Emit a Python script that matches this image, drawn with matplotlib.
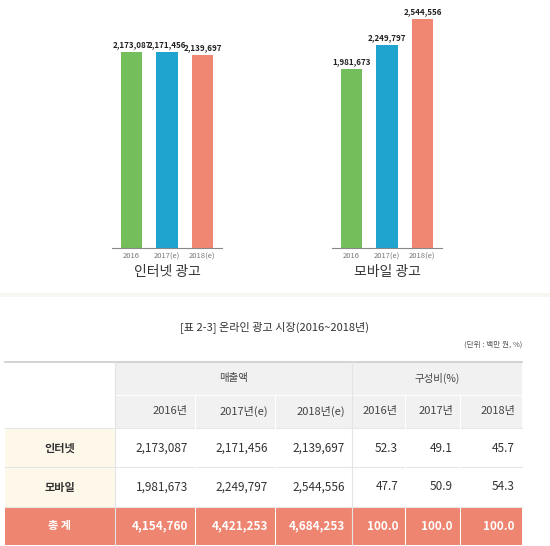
import matplotlib
matplotlib.use("Agg")
import matplotlib.pyplot as plt
from matplotlib.patches import Rectangle

plt.rcParams["font.family"] = ["Noto Sans CJK KR", "DejaVu Sans"]

years = ["2016", "2017(e)", "2018(e)"]
internet = [2173087, 2171456, 2139697]
mobile = [1981673, 2249797, 2544556]
total = [4154760, 4421253, 4684253]
share_internet = [52.3, 49.1, 45.7]
share_mobile = [47.7, 50.9, 54.3]
share_total = [100.0, 100.0, 100.0]
bar_colors = ["#74bf5c", "#1fa3cf", "#ef8772"]

W, H = 550, 546
fig = plt.figure(figsize=(W / 100, H / 100), dpi=100)


def px_axes(x0, y0, x1, y1):
    return fig.add_axes([x0 / W, 1 - y1 / H, (x1 - x0) / W, (y1 - y0) / H])


def bar_panel(x0, x1, values, title):
    ax = px_axes(x0, 0, x1, 248)
    xs = range(len(values))
    ax.bar(xs, values, width=0.6, color=bar_colors)
    for x, v in zip(xs, values):
        ax.text(x, v + 30000, f"{v:,}", ha="center", va="bottom", fontsize=5.8,
                color="#222222", fontweight="bold")
    ax.set_ylim(0, 2.75e6)
    ax.set_xlim(-0.55, 2.55)
    ax.set_yticks([])
    ax.set_xticks(list(xs), years, fontsize=5.5, color="#777777")
    ax.tick_params(axis="x", length=0, pad=3)
    for s in ("top", "right", "left"):
        ax.spines[s].set_visible(False)
    ax.spines["bottom"].set_color("#888888")
    ax.patch.set_alpha(0)
    fig.text((x0 + x1) / 2 / W, 1 - 272 / H, title, ha="center", va="center",
             fontsize=10, color="#333333")


bar_panel(112, 222, internet, "인터넷 광고")
bar_panel(332, 442, mobile, "모바일 광고")

# table in pixel coordinates
tab = fig.add_axes([0, 0, 1, 1], zorder=-1)
tab.set_xlim(0, W)
tab.set_ylim(H, 0)
tab.axis("off")
tab.add_patch(Rectangle((0, 293), W, 4, color="#f7f7f2", lw=0))

fig.text(275 / W, 1 - 327 / H, "[표 2-3] 온라인 광고 시장(2016~2018년)", ha="center",
         va="center", fontsize=8, color="#333333")
fig.text(522 / W, 1 - 345 / H, "(단위 : 백만 원, %)", ha="right", va="center",
         fontsize=5.5, color="#555555")

edges = [5, 115, 195, 275, 352, 405, 460, 522]
rows = [362, 395, 428, 467, 507, 545]

tab.add_patch(Rectangle((115, 362), 522 - 115, 66, color="#f1f1f1", lw=0))
tab.add_patch(Rectangle((5, 428), 110, 79, color="#fdf8ea", lw=0))
tab.add_patch(Rectangle((5, 507), 517, 38, color="#ee8571", lw=0))
tab.plot([5, 522], [362, 362], color="#cccccc", lw=1.2)
for y in rows[2:5]:
    tab.plot([5, 522], [y, y], color="#e6e6e6", lw=0.8)
tab.plot([115, 522], [395, 395], color="#ffffff", lw=0.8)
for x in edges[1:-1]:
    y_start = 362 if x in (115, 352) else 395
    tab.plot([x, x], [y_start, 545], color="#ffffff" if x not in (115, 352) else "#e4e4e4", lw=0.8)

tab.text((115 + 352) / 2, 378, "매출액", ha="center", va="center", fontsize=7.5, color="#444444")
tab.text((352 + 522) / 2, 378, "구성비(%)", ha="center", va="center", fontsize=7.5, color="#444444")
headers = ["2016년", "2017년(e)", "2018년(e)", "2016년", "2017년", "2018년"]
for i, h in enumerate(headers):
    tab.text(edges[i + 2] - 7, 411, h, ha="right", va="center", fontsize=8, color="#444444")


def fill_row(y, name, vals, shares, color, bold):
    tab.text(60, y, name, ha="center", va="center", fontsize=8, color=color,
             fontweight="bold")
    cells = [f"{v:,}" for v in vals] + [f"{s:.1f}" for s in shares]
    for i, c in enumerate(cells):
        tab.text(edges[i + 2] - 7, y, c, ha="right", va="center", fontsize=8.5,
                 color=color, fontweight="bold" if bold else "normal")


fill_row(448, "인터넷", internet, share_internet, "#333333", False)
fill_row(487, "모바일", mobile, share_mobile, "#333333", False)
fill_row(526, "총 계", total, share_total, "#ffffff", True)

fig.savefig("out.png", dpi=100, facecolor="white")
